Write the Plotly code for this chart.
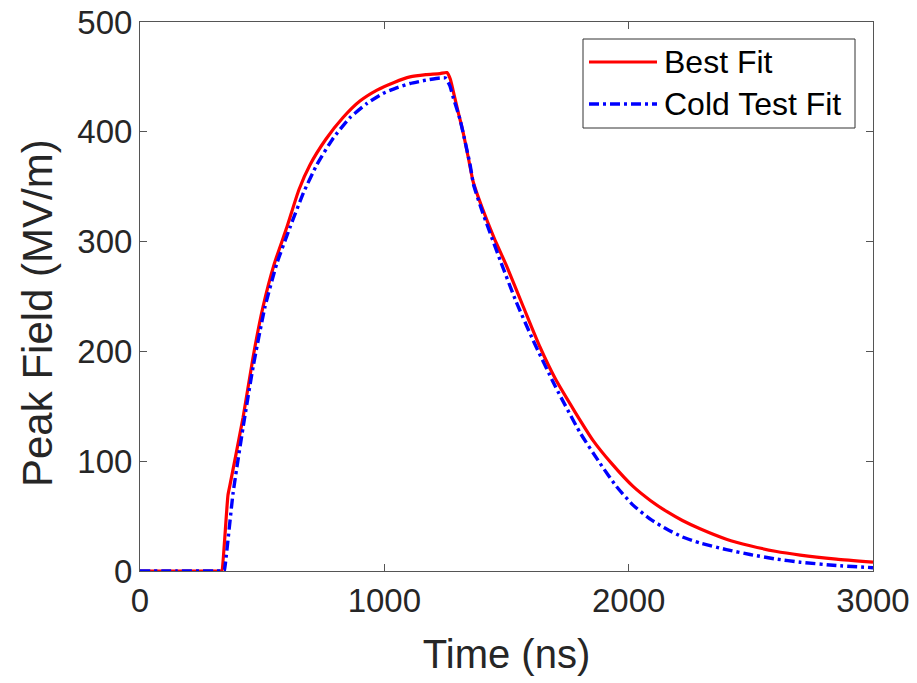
import plotly.graph_objects as go

# ---- data ----
best_t = [0, 150, 335, 336, 360, 368, 422, 463, 503, 550, 601, 650, 696, 760, 831, 900, 970, 1040, 1105,
          1170, 1228, 1256, 1270, 1281, 1300, 1322, 1345, 1363, 1400, 1450, 1502, 1570, 1637,
          1700, 1780, 1854, 1930, 2018, 2090, 2157, 2220, 2292, 2400, 2497, 2600, 2702, 2850, 3000]
best_v = [0, 0, 0, 0, 69, 78, 140, 195, 240, 280, 313, 347, 370, 393, 413, 428, 438, 445, 450,
          452, 453, 454, 448, 438, 420, 400, 375, 355, 331, 303, 277, 240, 204,
          175, 145, 119, 98, 77, 64, 54, 46, 38.5, 29, 23, 18, 14.5, 10.8, 8]

cold_t = [0, 150, 344, 345, 381, 422, 463, 511, 560, 614, 670, 724, 790, 860, 930, 995, 1050, 1105,
          1170, 1228, 1250, 1268, 1281, 1310, 1351, 1365, 1400, 1474, 1540, 1609, 1700, 1801,
          1883, 1950, 2018, 2090, 2157, 2220, 2292, 2400, 2497, 2600, 2702, 2850, 3000]
cold_v = [0, 0, 0, 0, 71, 131, 186, 240, 280, 313, 345, 370, 394, 413, 426, 435, 440, 444,
          447, 449, 449, 442, 432, 411, 370, 352, 328, 283, 245, 210, 168, 126,
          98, 77, 60, 47, 38, 31, 25.5, 19.5, 15, 11, 8, 5, 3]

series_names = ["Best Fit", "Cold Test Fit"]
x_ticks = [0, 1000, 2000, 3000]
y_ticks = [0, 100, 200, 300, 400, 500]

RED = "#ff0000"
BLUE = "#0000ff"
FONT = "Liberation Sans, Arial, sans-serif"
TXT = "#262626"
DASH = "10px,4px,3px,4px"

fig = go.Figure()
fig.add_trace(go.Scatter(x=best_t, y=best_v, mode="lines", name=series_names[0],
                         line=dict(color=RED, width=3.2, shape="spline", smoothing=0.5),
                         showlegend=False))
fig.add_trace(go.Scatter(x=cold_t, y=cold_v, mode="lines", name=series_names[1],
                         line=dict(color=BLUE, width=3.4, dash=DASH, shape="spline", smoothing=0.5),
                         showlegend=False))

axis_common = dict(
    showgrid=False, zeroline=False, showline=True, linecolor="#555555", linewidth=1,
    mirror="ticks", ticks="inside", ticklen=7, tickcolor="#555555", tickwidth=1,
    tickfont=dict(family=FONT, size=33, color=TXT), automargin=False,
)

fig.update_xaxes(range=[0, 3000], tickvals=x_ticks, ticktext=[str(v) for v in x_ticks],
                 title=dict(text="Time (ns)", font=dict(family=FONT, size=40, color=TXT), standoff=22),
                 **axis_common)
fig.update_yaxes(range=[0, 500], tickvals=y_ticks, ticktext=[str(v) for v in y_ticks],
                 **axis_common)

# ---- custom legend (MATLAB style) and y title ----
L, R, T, B = 140, 873, 22, 571
W, H = R - L, B - T
px = lambda x: (x - L) / W
py = lambda y: (B - y) / H

shapes = [
    dict(type="rect", xref="paper", yref="paper", x0=px(583), x1=px(855), y0=py(128), y1=py(39),
         line=dict(color="#333333", width=1), fillcolor="white", layer="above"),
    dict(type="line", xref="paper", yref="paper", x0=px(589), x1=px(657), y0=py(62), y1=py(62),
         line=dict(color=RED, width=3.2), layer="above"),
    dict(type="line", xref="paper", yref="paper", x0=px(589), x1=px(657), y0=py(104), y1=py(104),
         line=dict(color=BLUE, width=3.4, dash=DASH), layer="above"),
]
annotations = [
    dict(xref="paper", yref="paper", x=px(662), y=py(62), text=series_names[0], showarrow=False,
         xanchor="left", yanchor="middle", font=dict(family=FONT, size=32, color="black")),
    dict(xref="paper", yref="paper", x=px(662), y=py(104), text=series_names[1], showarrow=False,
         xanchor="left", yanchor="middle", font=dict(family=FONT, size=32, color="black")),
    dict(xref="paper", yref="paper", x=px(38), y=py(313), text="Peak Field (MV/m)", textangle=-90,
         showarrow=False, xanchor="center", yanchor="middle",
         font=dict(family=FONT, size=42, color=TXT)),
]

fig.update_layout(
    width=917, height=683,
    margin=dict(l=L, r=917 - R, t=T, b=683 - B, pad=0, autoexpand=False),
    plot_bgcolor="white", paper_bgcolor="white",
    shapes=shapes, annotations=annotations,
    showlegend=False,
)

fig.write_html("out.html")
